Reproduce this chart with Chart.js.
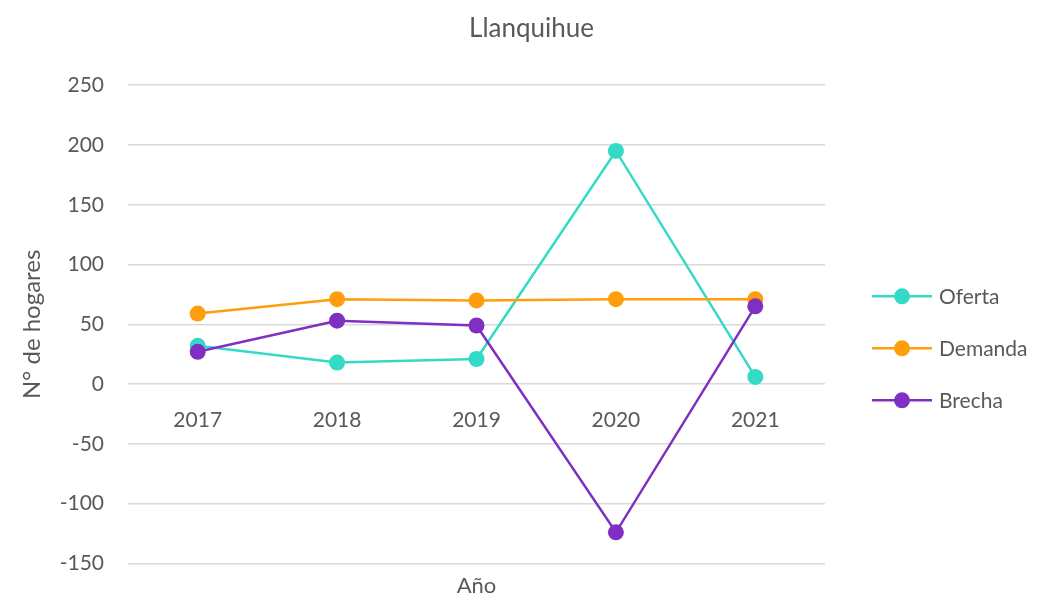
<!DOCTYPE html>
<html>
<head>
<meta charset="utf-8">
<script src="https://cdn.jsdelivr.net/npm/chart.js@4"></script>
<style>
  html, body { margin: 0; padding: 0; background: #fff; }
  #wrap { width: 1063px; height: 600px; }
</style>
</head>
<body>
<div id="wrap"><canvas id="chart" width="1063" height="600"></canvas></div>
<script>
// data
const years = ['2017', '2018', '2019', '2020', '2021'];
const oferta = [32, 18, 21, 195, 6];
const demanda = [59, 71, 70, 71, 71];
const brecha = [27, 53, 49, -124, 65];

const TEXT = '#595959';
const GRID = '#d9d9d9';
const COLORS = { oferta: '#33dbc6', demanda: '#ff9e0d', brecha: '#7f2fc2' };

Chart.defaults.font.family = 'Lato';
Chart.defaults.color = TEXT;

function series(label, data, color, order) {
  return {
    label, data, order,
    borderColor: color, backgroundColor: color,
    borderWidth: 2.5,
    pointRadius: 8, pointHoverRadius: 8,
    pointBorderWidth: 0,
    tension: 0
  };
}

// legend drawn by hand: short line with a dot in the middle, like Excel does
const lineLegend = {
  id: 'lineLegend',
  afterDraw(chart) {
    const { ctx, chartArea } = chart;
    const mid = (chartArea.top + chartArea.bottom) / 2 + 24;
    const x0 = chartArea.right + 47;
    ctx.save();
    chart.data.datasets.forEach((ds, i) => {
      const y = mid + (i - 1) * 52;
      ctx.strokeStyle = ds.borderColor;
      ctx.lineWidth = 2.5;
      ctx.beginPath();
      ctx.moveTo(x0, y);
      ctx.lineTo(x0 + 60, y);
      ctx.stroke();
      ctx.fillStyle = ds.borderColor;
      ctx.beginPath();
      ctx.arc(x0 + 30, y, 8, 0, Math.PI * 2);
      ctx.fill();
      ctx.fillStyle = TEXT;
      ctx.font = '21px Lato';
      ctx.textBaseline = 'middle';
      ctx.textAlign = 'left';
      ctx.fillText(ds.label, x0 + 67, y + 1);
    });
    ctx.restore();
  }
};

new Chart(document.getElementById('chart'), {
  type: 'line',
  data: {
    labels: years,
    datasets: [
      series('Oferta', oferta, COLORS.oferta, 2),
      series('Demanda', demanda, COLORS.demanda, 1),
      series('Brecha', brecha, COLORS.brecha, 0)
    ]
  },
  options: {
    responsive: false,
    animation: false,
    layout: { padding: 0 },
    plugins: {
      legend: { display: false },
      tooltip: { enabled: false },
      title: {
        display: true,
        text: 'Llanquihue',
        color: TEXT,
        font: { size: 26, weight: 'normal' },
        padding: { top: 13, bottom: 41 }
      }
    },
    scales: {
      x: {
        type: 'category',
        position: { y: 0 },
        offset: true,
        grid: { display: false, drawTicks: false },
        border: { display: false },
        ticks: { color: TEXT, font: { size: 21 }, padding: 24 }
      },
      x2: {
        type: 'category',
        position: 'bottom',
        grid: { display: false, drawTicks: false },
        border: { display: false },
        ticks: { display: false },
        title: { display: true, text: 'Año', color: TEXT, font: { size: 22 }, padding: { top: 10, bottom: 0 } },
        afterFit(s) { s.height = 36; }
      },
      y: {
        min: -150,
        max: 250,
        grid: { color: GRID, lineWidth: 1.5, drawTicks: false },
        border: { display: false },
        ticks: { stepSize: 50, color: TEXT, font: { size: 21 }, padding: 24 },
        title: { display: true, text: 'N° de hogares', color: TEXT, font: { size: 24 }, padding: { top: 18, bottom: 0 } },
        afterFit(s) { s.width = 128; }
      },
      // empty right axis only keeps room for the legend
      yRight: {
        type: 'linear',
        position: 'right',
        grid: { display: false, drawTicks: false },
        border: { display: false },
        ticks: { display: false },
        afterFit(s) { s.width = 238; }
      }
    }
  },
  plugins: [lineLegend]
});
</script>
</body>
</html>
